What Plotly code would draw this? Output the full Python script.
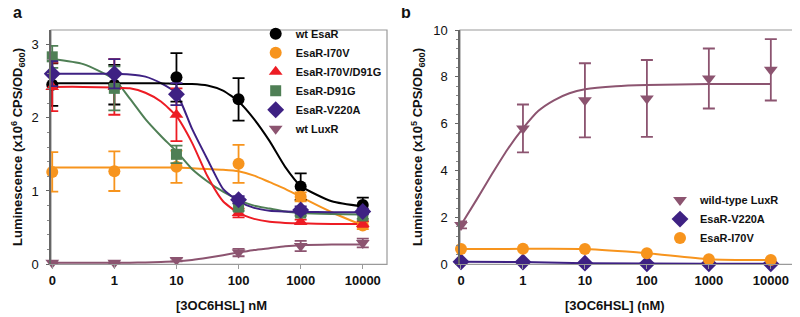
import plotly.graph_objects as go

# ---------------- data ----------------
conc_labels = ["0", "1", "10", "100", "1000", "10000"]
conc_pos = [0, 1, 2, 3, 4, 5]          # category positions on the concentration axis

# panel a : measured points (x10^6 CPS/OD600) and error bars
wt_esar = [2.45, 2.45, 2.55, 2.25, 1.06, 0.81]
wt_esar_err = [0.29, 0.27, 0.33, 0.29, 0.18, 0.10]
i70v = [1.26, 1.27, 1.33, 1.37, 0.92, 0.53]
i70v_err = [0.27, 0.27, 0.22, 0.26, 0.06, 0.05]
i70v_d91g = [2.42, 2.42, 2.04, 0.70, 0.58, 0.55]
i70v_d91g_err = [0.33, 0.38, 0.36, 0.06, 0.03, 0.04]
d91g = [2.83, 2.40, 1.50, 0.78, 0.70, 0.66]
d91g_err = [0.15, 0.30, 0.12, 0.05, 0.04, 0.04]
v220a = [2.60, 2.60, 2.32, 0.88, 0.74, 0.72]
v220a_err = [0.17, 0.20, 0.15, 0.05, 0.05, 0.04]
wt_luxr = [0.02, 0.02, 0.06, 0.16, 0.25, 0.29]
wt_luxr_err = [0.01, 0.01, 0.02, 0.05, 0.07, 0.06]

# panel a : fitted curves (position on concentration axis, value)
fit_pos = [0, 0.5, 1, 1.25, 1.5, 1.75, 2, 2.25, 2.5, 2.75, 3, 3.25, 3.5, 3.75, 4, 4.5, 5]
fit_wt_esar = [2.47, 2.47, 2.47, 2.47, 2.47, 2.47, 2.46, 2.46, 2.44, 2.37, 2.22, 1.98, 1.68, 1.33, 1.07, 0.86, 0.79]
fit_i70v = [1.32, 1.32, 1.32, 1.32, 1.32, 1.32, 1.32, 1.31, 1.30, 1.29, 1.27, 1.21, 1.12, 1.03, 0.92, 0.71, 0.53]
fit_i70v_d91g = [2.42, 2.42, 2.41, 2.40, 2.34, 2.22, 2.02, 1.66, 1.20, 0.86, 0.70, 0.62, 0.58, 0.565, 0.56, 0.55, 0.55]
fit_d91g = [2.80, 2.73, 2.52, 2.26, 1.98, 1.75, 1.54, 1.30, 1.13, 0.99, 0.88, 0.80, 0.76, 0.72, 0.70, 0.685, 0.68]
fit_v220a = [2.60, 2.60, 2.60, 2.59, 2.56, 2.47, 2.33, 1.85, 1.43, 1.03, 0.86, 0.77, 0.73, 0.72, 0.715, 0.71, 0.71]
fit_wt_luxr = [0.02, 0.02, 0.02, 0.022, 0.025, 0.03, 0.04, 0.06, 0.09, 0.125, 0.16, 0.195, 0.22, 0.245, 0.26, 0.27, 0.27]

# panel b : measured points (x10^5 CPS/OD600)
b_luxr = [1.68, 5.80, 7.00, 7.08, 7.93, 8.30]
b_luxr_err = [0.15, 1.02, 1.58, 1.64, 1.28, 1.31]
b_v220a = [0.11, 0.10, 0.05, 0.02, 0.02, 0.02]
b_i70v = [0.65, 0.66, 0.65, 0.47, 0.22, 0.18]

b_fit_pos = [0, 0.25, 0.5, 0.75, 1, 1.25, 1.5, 1.75, 2, 2.5, 3, 4, 5]
b_fit_luxr = [1.68, 2.75, 3.85, 4.9, 5.8, 6.55, 7.0, 7.3, 7.47, 7.6, 7.65, 7.69, 7.7]

# ---------------- style ----------------
C_BLACK = "#000000"
C_ORANGE = "#F7941D"
C_RED = "#ED1C24"
C_GREEN = "#4F7F55"
C_PURPLE = "#3E2183"
C_MAUVE = "#8C5470"
FONT = "Liberation Sans"
W, H = 800, 317
OFF = 8   # page offset of the figure inside the window


def px(xp):
    return (xp - OFF) / W


def py(yp):
    return 1 - (yp - OFF) / H


fig = go.Figure()


def curve(x, y, color, xa, ya, shape="spline"):
    fig.add_trace(go.Scatter(x=x, y=y, mode="lines", line=dict(color=color, width=2, shape=shape, smoothing=0.6),
                             showlegend=False, hoverinfo="skip", xaxis=xa, yaxis=ya, cliponaxis=False))


def points(y, err, color, symbol, name, xa, ya, legend, size=12):
    fig.add_trace(go.Scatter(
        x=conc_pos, y=y, mode="markers", name="<b>" + name + "</b>",
        marker=dict(color=color, symbol=symbol, size=size, line=dict(width=0)),
        error_y=dict(type="data", array=err, visible=err is not None, color=color, thickness=1.8, width=6),
        xaxis=xa, yaxis=ya, legend=legend, cliponaxis=False))


# panel a curves
curve(fit_pos, fit_wt_luxr, C_MAUVE, "x", "y")
curve(fit_pos, fit_i70v, C_ORANGE, "x", "y")
curve(fit_pos, fit_d91g, C_GREEN, "x", "y")
curve(fit_pos, fit_i70v_d91g, C_RED, "x", "y")
curve(fit_pos, fit_v220a, C_PURPLE, "x", "y")
curve(fit_pos, fit_wt_esar, C_BLACK, "x", "y")

# panel a points (legend order)
points(wt_esar, wt_esar_err, C_BLACK, "circle", "wt EsaR", "x", "y", "legend")
points(i70v, i70v_err, C_ORANGE, "circle", "EsaR-I70V", "x", "y", "legend")
points(i70v_d91g, i70v_d91g_err, C_RED, "triangle-up", "EsaR-I70V/D91G", "x", "y", "legend")
points(d91g, d91g_err, C_GREEN, "square", "EsaR-D91G", "x", "y", "legend", size=11)
points(v220a, v220a_err, C_PURPLE, "diamond", "EsaR-V220A", "x", "y", "legend", size=13)
points(wt_luxr, wt_luxr_err, C_MAUVE, "triangle-down", "wt LuxR", "x", "y", "legend")

# panel b
curve(b_fit_pos, b_fit_luxr, C_MAUVE, "x2", "y2")
curve(conc_pos, b_i70v, C_ORANGE, "x2", "y2")
curve(conc_pos, b_v220a, C_PURPLE, "x2", "y2", shape="linear")
points(b_luxr, b_luxr_err, C_MAUVE, "triangle-down", "wild-type LuxR", "x2", "y2", "legend2")
points(b_v220a, None, C_PURPLE, "diamond", "EsaR-V220A", "x2", "y2", "legend2", size=13)
points(b_i70v, None, C_ORANGE, "circle", "EsaR-I70V", "x2", "y2", "legend2")

tickfont = dict(family=FONT, size=13, color="#111111")
xcommon = dict(tickmode="array", tickvals=conc_pos, ticktext=["<b>%s</b>" % t for t in conc_labels], tickfont=tickfont,
               showgrid=False, zeroline=False, showline=True, linecolor="#9a9a9a", linewidth=1.2,
               ticks="outside", ticklen=4, tickcolor="#9a9a9a", automargin=False)
ycommon = dict(tickfont=tickfont, showgrid=False, zeroline=False, showline=True, linecolor="#666666",
               linewidth=1.5, ticks="outside", ticklen=3, tickcolor="#666666", ticklabelstandoff=5,
               tickprefix="<b>", ticksuffix="</b>", automargin=False)

yb0, yb1 = py(264.3), py(30)
fig.update_layout(
    width=W, height=H, margin=dict(l=0, r=0, t=0, b=0, autoexpand=False),
    paper_bgcolor="white", plot_bgcolor="white",
    font=dict(family=FONT, color="#111111"),
    xaxis=dict(xcommon, domain=[px(51), px(387)], range=[-0.02, 5.39], anchor="y"),
    yaxis=dict(ycommon, domain=[yb0, yb1], range=[0, 3.196], tickvals=[0, 1, 2, 3], anchor="x",
               minor=dict(dtick=0.2, ticks="outside", ticklen=2, tickcolor="#888888")),
    xaxis2=dict(xcommon, domain=[px(460), px(795)], range=[-0.016, 5.39], anchor="y2"),
    yaxis2=dict(ycommon, domain=[yb0, yb1], range=[0, 10], tickvals=[0, 2, 4, 6, 8, 10], anchor="x2",
                minor=dict(dtick=0.4, ticks="outside", ticklen=2, tickcolor="#888888")),
    legend=dict(x=0.3096, y=0.9646, xanchor="left", yanchor="top", bgcolor="rgba(0,0,0,0)",
                font=dict(family=FONT, size=11, color="#111111"), tracegroupgap=0, itemsizing="trace"),
    legend2=dict(x=0.815, y=0.4398, xanchor="left", yanchor="top", bgcolor="rgba(0,0,0,0)",
                 font=dict(family=FONT, size=11, color="#111111"), tracegroupgap=0),
    shapes=[
        dict(type="rect", xref="x domain", yref="y domain", x0=0, x1=1, y0=0, y1=1,
             line=dict(color="#9a9a9a", width=1.2), layer="below"),
        dict(type="rect", xref="x2 domain", yref="y2 domain", x0=0, x1=1, y0=0, y1=1,
             line=dict(color="#9a9a9a", width=1.2), layer="below"),
    ],
    annotations=[
        dict(text="<b>a</b>", x=px(17.5), y=py(12), xref="paper", yref="paper", showarrow=False,
             font=dict(family=FONT, size=16), xanchor="center", yanchor="middle"),
        dict(text="<b>b</b>", x=px(406), y=py(12), xref="paper", yref="paper", showarrow=False,
             font=dict(family=FONT, size=16), xanchor="center", yanchor="middle"),
        dict(text="<b>Luminescence (x10<sup>6</sup> CPS/OD<sub>600</sub>)</b>", x=px(18), y=py(147),
             xref="paper", yref="paper", showarrow=False, textangle=-90,
             font=dict(family=FONT, size=13), xanchor="center", yanchor="middle"),
        dict(text="<b>Luminescence (x10<sup>5</sup> CPS/OD<sub>600</sub>)</b>", x=px(418), y=py(147),
             xref="paper", yref="paper", showarrow=False, textangle=-90,
             font=dict(family=FONT, size=13), xanchor="center", yanchor="middle"),
        dict(text="<b>[3OC6HSL] nM</b>", x=px(221), y=py(305), xref="paper", yref="paper",
             showarrow=False, font=dict(family=FONT, size=13), xanchor="center", yanchor="middle"),
        dict(text="<b>[3OC6HSL] (nM)</b>", x=px(615), y=py(305), xref="paper", yref="paper",
             showarrow=False, font=dict(family=FONT, size=13), xanchor="center", yanchor="middle"),
    ],
)

fig.write_html("out.html")
